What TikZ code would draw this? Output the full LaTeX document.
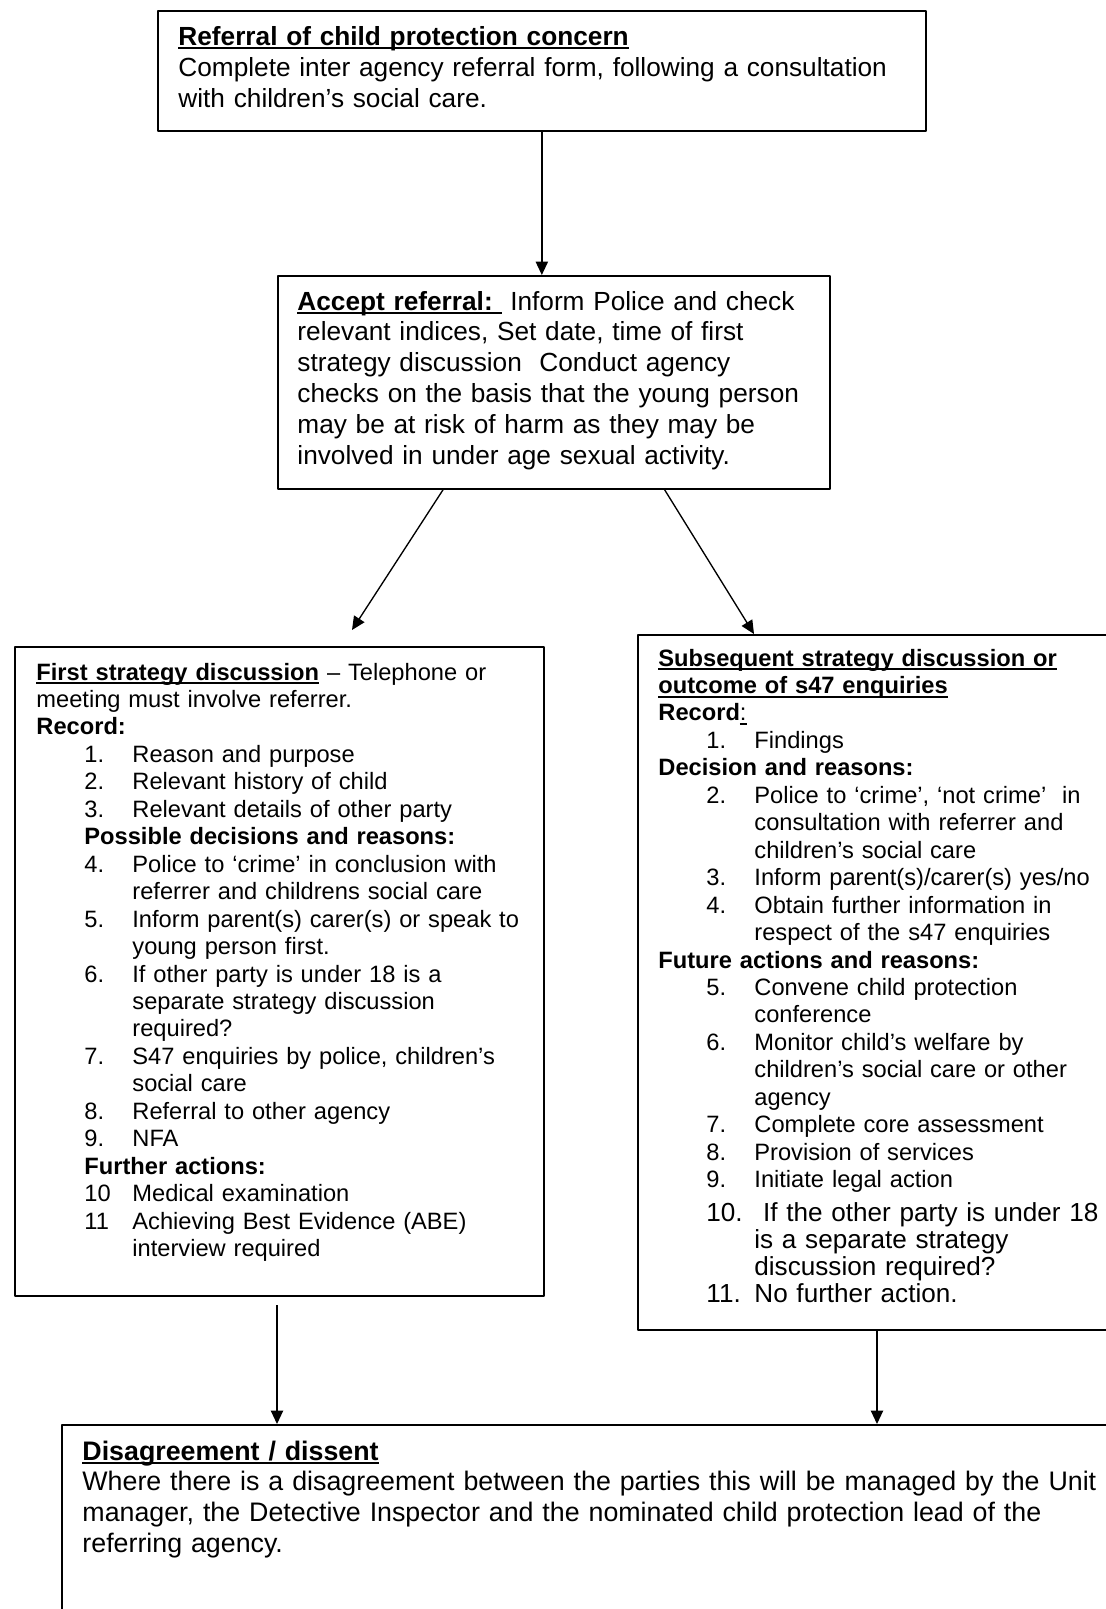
\documentclass[tikz,border=0pt]{standalone}
\usepackage{fontspec}
\setmainfont{Liberation Sans}
\usetikzlibrary{arrows.meta}
\usetikzlibrary{calc}

\newdimen\pxu \pxu=0.448pt
\newdimen\numx \numx=21.5pt
\newdimen\numw \numw=21.5pt
\newcommand{\undl}[1]{\leavevmode\setbox0\hbox{#1}\rlap{\rule[-1.9pt]{\wd0}{0.85pt}}\box0\relax}
\newcommand{\itm}[2]{\hspace*{\numx}\makebox[\numw][l]{#1}#2}
\newcommand{\cnt}[1]{\hspace*{\dimexpr\numx+\numw\relax}#1}

\tikzset{
  flowbox/.style={draw, line width=0.75pt, inner sep=0pt, anchor=north west},
  boxtext/.style={anchor=base west, inner sep=0pt, align=left},
  bigtext/.style={font=\fontsize{11.75}{13.8}\selectfont},
  smalltext/.style={font=\fontsize{10.6}{12.3}\selectfont},
  flow/.style={->, line width=0.6pt}
}

\begin{document}
\begin{tikzpicture}[x=0.448pt, y=-0.448pt]
	\useasboundingbox (0,0) rectangle (1106,1609);
	\clip (0,0) rectangle (1106,1609);
	\begin{scope}[>={Triangle[length=6pt,width=5.5pt]}, line join=round]

	% boxes
	\node[flowbox, minimum width=768*\pxu, minimum height=120*\pxu] (refbox) at (157,10) {};
	\node[flowbox, minimum width=552*\pxu, minimum height=213*\pxu] (accbox) at (277,275) {};
	\node[flowbox, minimum width=529*\pxu, minimum height=649*\pxu] (firstbox) at (14,646) {};
	\node[flowbox, minimum width=478*\pxu, minimum height=695*\pxu] (nextbox) at (637,634) {};
	\node[flowbox, minimum width=1054*\pxu, minimum height=196*\pxu] (dissbox) at (61,1424) {};

	% texts
	\node[boxtext, font=\fontsize{11.75}{14}\selectfont, text width=400pt] (reftxt) at (178,45) {%
		\undl{\textbf{Referral of child protection concern}}\\
		Complete inter agency referral form, following a consultation\\
		with children’s social care.};

	\node[boxtext, bigtext, text width=260pt] (acctxt) at (297,310) {%
		\undl{\textbf{Accept referral:}\ }\ Inform Police and check\\
		relevant indices, Set date, time of first\\
		strategy discussion\ \ Conduct agency\\
		checks on the basis that the young person\\
		may be at risk of harm as they may be\\
		involved in under age sexual activity.};

	\node[boxtext, smalltext, text width=240pt] (firsttxt) at (36,680) {%
		\undl{\textbf{First strategy discussion}} – Telephone or\\
		meeting must involve referrer.\\
		\textbf{Record:}\\
		\itm{1.}{Reason and purpose}\\
		\itm{2.}{Relevant history of child}\\
		\itm{3.}{Relevant details of other party}\\
		\hspace*{\numx}\textbf{Possible decisions and reasons:}\\
		\itm{4.}{Police to ‘crime’ in conclusion with}\\
		\cnt{referrer and childrens social care}\\
		\itm{5.}{Inform parent(s) carer(s) or speak to}\\
		\cnt{young person first.}\\
		\itm{6.}{If other party is under 18 is a}\\
		\cnt{separate strategy discussion}\\
		\cnt{required?}\\
		\itm{7.}{S47 enquiries by police, children’s}\\
		\cnt{social care}\\
		\itm{8.}{Referral to other agency}\\
		\itm{9.}{NFA}\\
		\hspace*{\numx}\textbf{Further actions:}\\
		\itm{10}{Medical examination}\\
		\itm{11}{Achieving Best Evidence (ABE)}\\
		\cnt{interview required}};

	\node[boxtext, smalltext, text width=240pt] (nexttxt) at (658,666) {%
		\undl{\textbf{Subsequent strategy discussion or}}\\
		\undl{\textbf{outcome of s47 enquiries}}\\
		\textbf{Record}\undl{:}\\
		\itm{1.}{Findings}\\
		\textbf{Decision and reasons:}\\
		\itm{2.}{Police to ‘crime’, ‘not crime’\ \ in}\\
		\cnt{consultation with referrer and}\\
		\cnt{children’s social care}\\
		\itm{3.}{Inform parent(s)/carer(s) yes/no}\\
		\itm{4.}{Obtain further information in}\\
		\cnt{respect of the s47 enquiries}\\
		\textbf{Future actions and reasons:}\\
		\itm{5.}{Convene child protection}\\
		\cnt{conference}\\
		\itm{6.}{Monitor child’s welfare by}\\
		\cnt{children’s social care or other}\\
		\cnt{agency}\\
		\itm{7.}{Complete core assessment}\\
		\itm{8.}{Provision of services}\\
		\itm{9.}{Initiate legal action}};
	\node[boxtext, font=\fontsize{11.7}{12.2}\selectfont, text width=240pt] (nextmore) at (658,1221) {%
		\itm{10.}{\ If the other party is under 18}\\
		\cnt{is a separate strategy}\\
		\cnt{discussion required?}\\
		\itm{11.}{No further action.}};

	\node[boxtext, font=\fontsize{12}{13.8}\selectfont, text width=480pt] (disstxt) at (82,1460) {%
		\undl{\textbf{Disagreement / dissent}}\\
		Where there is a disagreement between the parties this will be managed by the Unit\\
		manager, the Detective Inspector and the nominated child protection lead of the\\
		referring agency.};

	% connectors
	\coordinate (firstin) at (352,630);
	\coordinate (nextin) at (754,634);
	\coordinate (firstout) at (277,1305);
	\coordinate (nextout) at (877,1329);

	\draw[flow] (refbox.south) -- (refbox.south |- accbox.north);
	\draw[flow] ($(accbox.south west)!0.3!(accbox.south east)$) -- (firstin);
	\draw[flow] ($(accbox.south west)!0.7!(accbox.south east)$) -- (nextin);
	\draw[flow] (firstout) -- (firstout |- dissbox.north);
	\draw[flow] (nextout) -- (nextout |- dissbox.north);

	\end{scope}
\end{tikzpicture}
\end{document}
